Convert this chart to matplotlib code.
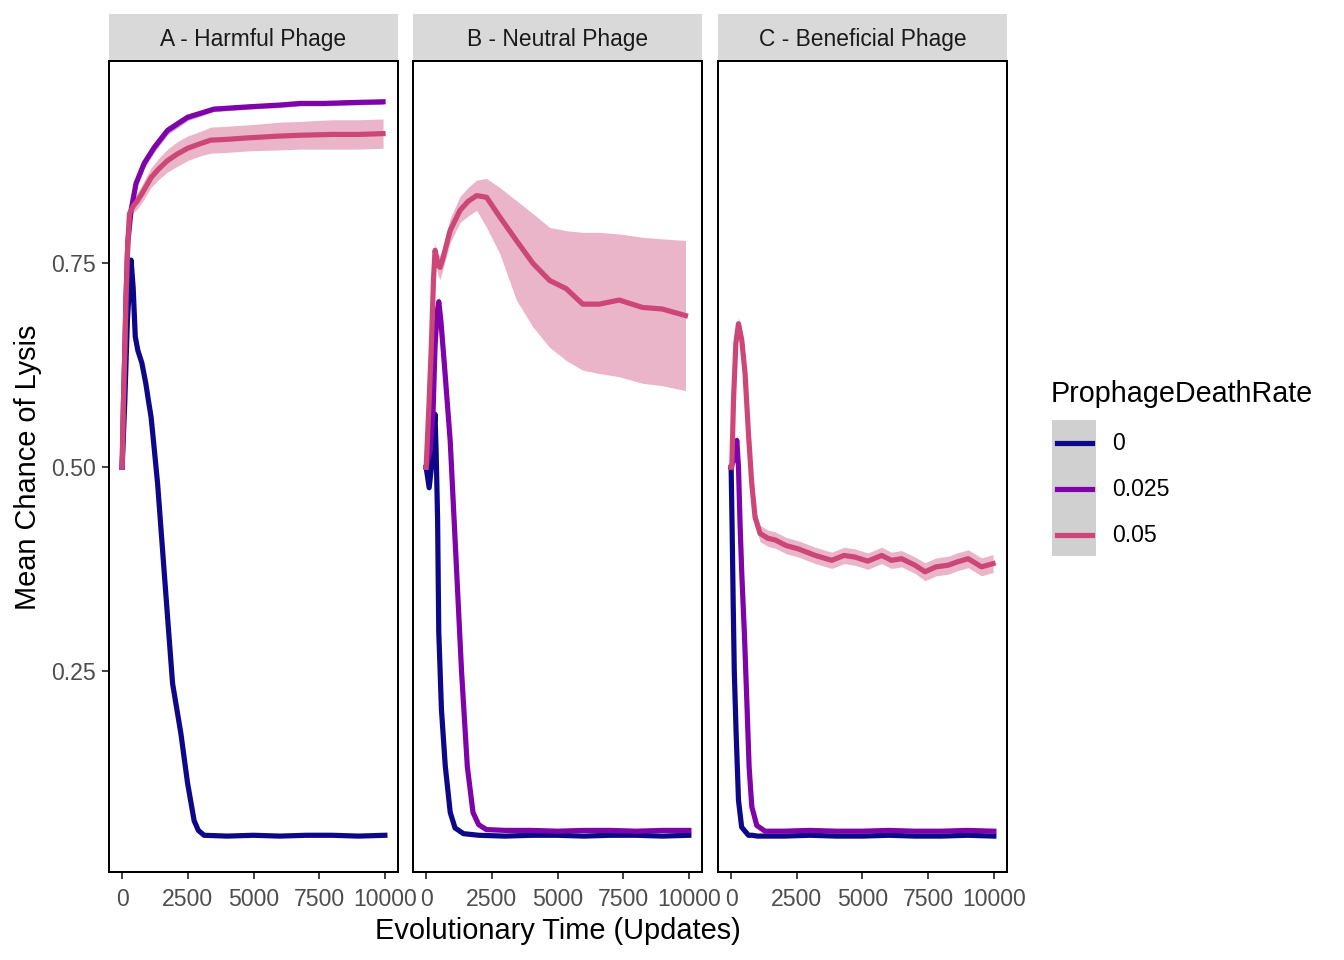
import matplotlib

matplotlib.use("Agg")
import matplotlib.pyplot as plt
from matplotlib.lines import Line2D
from matplotlib.patches import Rectangle

# ---- data ------------------------------------------------------------------
LEVELS = ["0", "0.025", "0.05"]
PANELS = ["A - Harmful Phage", "B - Neutral Phage", "C - Beneficial Phage"]
X_TICKS = [0, 2500, 5000, 7500, 10000]
X_TICK_LABELS = ["0", "2500", "5000", "7500", "10000"]
Y_TICKS = [0.25, 0.50, 0.75]
Y_TICK_LABELS = ["0.25", "0.50", "0.75"]

# panel A - harmful
A0_T = [0, 100, 200, 340, 420, 500, 600, 750, 900, 1000, 1100, 1200, 1350, 1540,
        1730, 1920, 2235, 2490, 2740, 2900, 3120, 4000, 5000, 6000, 7000, 8000,
        9000, 10000]
A0_Y = [0.50, 0.58, 0.68, 0.754, 0.72, 0.66, 0.643, 0.628, 0.603, 0.582, 0.562,
        0.530, 0.480, 0.398, 0.316, 0.235, 0.174, 0.113, 0.067, 0.055, 0.049, 0.048,
        0.049, 0.048, 0.049, 0.049, 0.048, 0.049]
A0_E = [0.0, 0.003, 0.003, 0.003, 0.003, 0.003, 0.003, 0.004, 0.004, 0.004, 0.005,
        0.005, 0.006, 0.007, 0.008, 0.010, 0.010, 0.009, 0.006, 0.003, 0.002, 0.001,
        0.001, 0.001, 0.001, 0.001, 0.001, 0.001]

A1_T = [0, 50, 100, 150, 215, 340, 530, 845, 1220, 1730, 2490, 3490, 4890, 6000,
        6780, 7700, 8670, 9930]
A1_Y = [0.50, 0.58, 0.64, 0.71, 0.775, 0.815, 0.848, 0.873, 0.892, 0.913, 0.929,
        0.939, 0.942, 0.944, 0.946, 0.946, 0.947, 0.948]
A1_E = [0.0, 0.003, 0.004, 0.004, 0.005, 0.005, 0.006, 0.006, 0.006, 0.005, 0.004,
        0.003, 0.003, 0.003, 0.003, 0.003, 0.003, 0.003]

A2_T = [0, 50, 100, 150, 215, 280, 420, 590, 800, 1100, 1400, 1730, 2100, 2490,
        3000, 3370, 4000, 4890, 6000, 6780, 8000, 9000, 9930]
A2_Y = [0.50, 0.58, 0.64, 0.71, 0.775, 0.811, 0.820, 0.827, 0.838, 0.855, 0.866,
        0.876, 0.884, 0.891, 0.897, 0.901, 0.902, 0.904, 0.906, 0.907, 0.908, 0.908,
        0.909]
A2_E = [0.0, 0.003, 0.004, 0.005, 0.006, 0.007, 0.008, 0.010, 0.011, 0.012, 0.013,
        0.014, 0.015, 0.015, 0.015, 0.016, 0.016, 0.016, 0.017, 0.017, 0.018, 0.018,
        0.018]

# panel B - neutral
B0_T = [0, 115, 200, 337, 380, 436, 481, 583, 728, 917, 1100, 1420, 2000, 3000,
        4000, 5000, 6000, 7000, 8000, 9000, 10000]
B0_Y = [0.50, 0.475, 0.50, 0.565, 0.52, 0.437, 0.298, 0.203, 0.134, 0.077, 0.058,
        0.051, 0.049, 0.048, 0.049, 0.049, 0.048, 0.049, 0.049, 0.048, 0.049]
B0_E = [0.0, 0.004, 0.004, 0.005, 0.005, 0.004, 0.004, 0.003, 0.003, 0.002, 0.002,
        0.001, 0.001, 0.001, 0.001, 0.001, 0.001, 0.001, 0.001, 0.001, 0.001]

B1_T = [0, 150, 265, 340, 420, 481, 560, 697, 917, 1133, 1348, 1568, 1784, 2000,
        2290, 3000, 4000, 5000, 6000, 7000, 8000, 9000, 10000]
B1_Y = [0.50, 0.52, 0.57, 0.649, 0.69, 0.703, 0.68, 0.625, 0.532, 0.391, 0.25,
        0.133, 0.077, 0.062, 0.056, 0.055, 0.055, 0.054, 0.055, 0.055, 0.054, 0.055,
        0.055]
B1_E = [0.0, 0.004, 0.005, 0.006, 0.006, 0.006, 0.005, 0.004, 0.004, 0.003, 0.003,
        0.003, 0.002, 0.002, 0.001, 0.001, 0.001, 0.001, 0.001, 0.001, 0.001, 0.001,
        0.001]

B2_T = [0, 100, 200, 280, 340, 450, 530, 656, 910, 1290, 1600, 1920, 2300, 2800,
        3435, 4065, 4700, 5330, 5960, 6590, 7350, 8230, 8990, 9870]
B2_Y = [0.50, 0.57, 0.65, 0.73, 0.766, 0.748, 0.745, 0.758, 0.79, 0.815, 0.826,
        0.833, 0.831, 0.807, 0.778, 0.75, 0.729, 0.719, 0.70, 0.70, 0.705, 0.696,
        0.694, 0.686]
B2_LO = [0.50, 0.565, 0.64, 0.72, 0.755, 0.735, 0.73, 0.745, 0.775, 0.800, 0.808,
         0.815, 0.794, 0.762, 0.705, 0.672, 0.647, 0.631, 0.619, 0.615, 0.611, 0.603,
         0.600, 0.594]
B2_HI = [0.50, 0.575, 0.66, 0.74, 0.775, 0.76, 0.76, 0.77, 0.805, 0.832, 0.843,
         0.852, 0.854, 0.843, 0.827, 0.811, 0.794, 0.790, 0.788, 0.788, 0.786, 0.782,
         0.780, 0.778]

# panel C - beneficial
C0_T = [0, 40, 80, 120, 190, 280, 400, 660, 800, 1000, 2000, 3000, 4000, 5000,
        6000, 7000, 8000, 9000, 10000]
C0_Y = [0.50, 0.42, 0.33, 0.25, 0.174, 0.092, 0.059, 0.049, 0.049, 0.048, 0.048,
        0.049, 0.048, 0.048, 0.049, 0.048, 0.048, 0.049, 0.048]
C0_E = [0.0, 0.004, 0.004, 0.004, 0.003, 0.003, 0.002, 0.001, 0.001, 0.001, 0.001,
        0.001, 0.001, 0.001, 0.001, 0.001, 0.001, 0.001, 0.001]

C1_T = [0, 100, 216, 280, 340, 405, 505, 597, 684, 787, 977, 1290, 2000, 3000,
        4000, 5000, 6000, 7000, 8000, 9000, 10000]
C1_Y = [0.50, 0.51, 0.533, 0.50, 0.43, 0.37, 0.296, 0.214, 0.133, 0.084, 0.061,
        0.054, 0.054, 0.055, 0.054, 0.054, 0.055, 0.054, 0.054, 0.055, 0.054]
C1_E = [0.0, 0.005, 0.007, 0.005, 0.004, 0.004, 0.003, 0.003, 0.003, 0.002, 0.002,
        0.001, 0.001, 0.001, 0.001, 0.001, 0.001, 0.001, 0.001, 0.001, 0.001]

C2_T = [0, 25, 90, 180, 280, 405, 530, 660, 785, 910, 1100, 1400, 1670, 2100, 2560,
        3200, 3830, 4300, 4710, 5200, 5730, 6100, 6490, 7000, 7380, 7800, 8260, 8600,
        9020, 9530, 9970]
C2_Y = [0.50, 0.50, 0.582, 0.652, 0.676, 0.656, 0.615, 0.541, 0.48, 0.439, 0.419,
        0.413, 0.411, 0.404, 0.40, 0.392, 0.386, 0.392, 0.39, 0.385, 0.392, 0.386,
        0.388, 0.380, 0.372, 0.378, 0.380, 0.384, 0.388, 0.378, 0.382]
C2_E = [0.0, 0.003, 0.006, 0.007, 0.008, 0.008, 0.008, 0.008, 0.008, 0.009, 0.010,
        0.010, 0.010, 0.010, 0.010, 0.010, 0.010, 0.010, 0.010, 0.010, 0.010, 0.010,
        0.010, 0.010, 0.011, 0.011, 0.011, 0.011, 0.011, 0.011, 0.011]

# ---- style -----------------------------------------------------------------
COLORS = ["#0D0887", "#7E03A8", "#CC4678"]
W, H = 1344, 960
DPI = 144
LW = 2.6

plt.rcParams["font.family"] = ["Liberation Sans", "DejaVu Sans"]


def fx(x):
    return x / W


def fy(y):
    return 1 - y / H


def band(y, e):
    return [a - b for a, b in zip(y, e)], [a + b for a, b in zip(y, e)]


series = {
    0: [(A0_T, A0_Y, *band(A0_Y, A0_E)),
        (A1_T, A1_Y, *band(A1_Y, A1_E)),
        (A2_T, A2_Y, *band(A2_Y, A2_E))],
    1: [(B0_T, B0_Y, *band(B0_Y, B0_E)),
        (B1_T, B1_Y, *band(B1_Y, B1_E)),
        (B2_T, B2_Y, B2_LO, B2_HI)],
    2: [(C0_T, C0_Y, *band(C0_Y, C0_E)),
        (C1_T, C1_Y, *band(C1_Y, C1_E)),
        (C2_T, C2_Y, *band(C2_Y, C2_E))],
}

fig = plt.figure(figsize=(W / DPI, H / DPI), dpi=DPI)

panel_left = [109, 413, 718]
panel_w = 289
p_top, p_bot = 61, 872

for i, name in enumerate(PANELS):
    l = panel_left[i]
    ax = fig.add_axes([fx(l), fy(p_bot), panel_w / W, (p_bot - p_top) / H])
    for k, (t, y, lo, hi) in enumerate(series[i]):
        ax.fill_between(t, lo, hi, color=COLORS[k], alpha=0.4, lw=0, zorder=1)
    for k, (t, y, lo, hi) in enumerate(series[i]):
        ax.plot(t, y, color=COLORS[k], lw=LW, zorder=2 + k, solid_joinstyle="round")
    ax.set_xlim(-500, 10500)
    ax.set_ylim(0.004, 0.998)
    ax.set_xticks(X_TICKS)
    ax.set_xticklabels(X_TICK_LABELS)
    ax.set_yticks(Y_TICKS)
    if i == 0:
        ax.set_yticklabels(Y_TICK_LABELS)
    else:
        ax.tick_params(axis="y", left=False, labelleft=False)
    ax.tick_params(axis="both", direction="out", length=3.6, width=0.9,
                   color="#333333", labelsize=11.5, labelcolor="#4D4D4D", pad=3)
    ax.tick_params(axis="x", pad=4.5)
    for sp in ax.spines.values():
        sp.set_color("black")
        sp.set_linewidth(1.0)

    # facet strip
    sax = fig.add_axes([fx(l), fy(p_top - 1), panel_w / W, (p_top - 1 - 14) / H])
    sax.set_facecolor("#D9D9D9")
    sax.set_xticks([])
    sax.set_yticks([])
    for sp in sax.spines.values():
        sp.set_visible(False)
    sax.text(0.5, 0.44, name, transform=sax.transAxes, ha="center", va="center",
             fontsize=11.4, color="#1A1A1A")

# axis titles
fig.text(fx(558), fy(931), "Evolutionary Time (Updates)", ha="center", va="center",
         fontsize=14.5, color="black")
fig.text(fx(28), fy(467), "Mean Chance of Lysis", ha="center", va="center",
         rotation=90, fontsize=14.5, color="black")

# legend
fig.text(fx(1051), fy(394), "ProphageDeathRate", ha="left", va="center",
         fontsize=14.4, color="black")
fig.add_artist(Rectangle((fx(1052), fy(556)), 44 / W, 136 / H,
                         transform=fig.transFigure, facecolor="#D0D0D0",
                         edgecolor="none"))
for k, lab in enumerate(LEVELS):
    yk = 443 + k * 46
    fig.add_artist(Line2D([fx(1057), fx(1092)], [fy(yk), fy(yk)],
                          transform=fig.transFigure, color=COLORS[k], lw=LW))
    fig.text(fx(1112), fy(yk + 1), lab, ha="left", va="center", fontsize=11.5,
             color="black")

fig.savefig("out.png", dpi=DPI)
